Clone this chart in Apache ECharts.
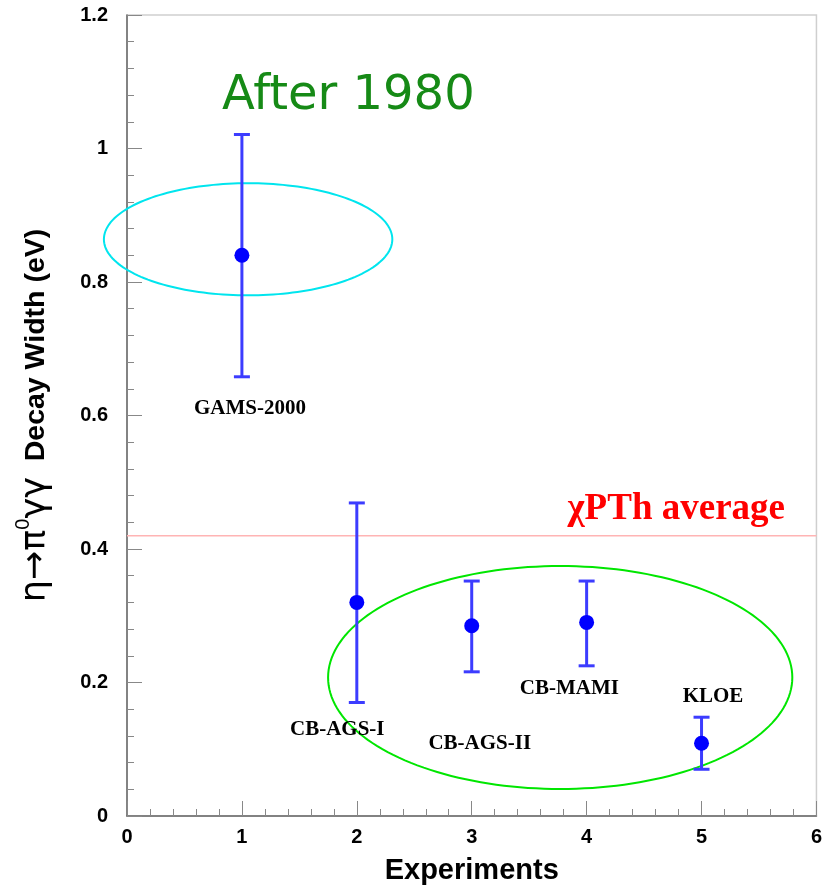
<!DOCTYPE html>
<html><head><meta charset="utf-8">
<script src="https://cdn.jsdelivr.net/npm/echarts@6/dist/echarts.min.js"></script>
<style>html,body{margin:0;padding:0;background:#fff}#c{width:825px;height:890px}</style>
</head><body><div id="c"></div>
<script>
// ---- data ----
var experiments = ['GAMS-2000', 'CB-AGS-I', 'CB-AGS-II', 'CB-MAMI', 'KLOE'];
var xPos = [1, 2, 3, 4, 5];
var widths = [0.84, 0.32, 0.285, 0.29, 0.109];
var errLow = [0.658, 0.170, 0.216, 0.225, 0.070];
var errHigh = [1.021, 0.469, 0.352, 0.352, 0.148];
var chptAverage = 0.42;
var labelX = [1.07, 1.83, 3.07, 3.85, 5.10];
var labelY = [0.610, 0.130, 0.109, 0.191, 0.179];
// ellipses: [cx, cy, rx, ry] in data units
var ellipseCyan = [1.054, 0.864, 1.255, 0.084];
var ellipseGreen = [3.77, 0.2075, 2.02, 0.167];
var xTicks = [0, 1, 2, 3, 4, 5, 6];
var yTicks = [0, 0.2, 0.4, 0.6, 0.8, 1, 1.2];

var chart = echarts.init(document.getElementById('c'));

function ellipseSeries(e, color) {
  return {
    type: 'custom', silent: true, z: 1,
    data: [e],
    renderItem: function (params, api) {
      var cx = api.value(0), cy = api.value(1), rx = api.value(2), ry = api.value(3);
      var pts = [];
      for (var i = 0; i < 180; i++) {
        var t = i / 180 * Math.PI * 2;
        pts.push(api.coord([cx + rx * Math.cos(t), cy + ry * Math.sin(t)]));
      }
      return { type: 'polygon', shape: { points: pts }, style: { fill: 'none', stroke: color, lineWidth: 2 } };
    }
  };
}

var errData = xPos.map(function (x, i) { return [x, errLow[i], errHigh[i]]; });
var ptData = xPos.map(function (x, i) { return [x, widths[i]]; });
var lblData = experiments.map(function (n, i) { return { value: [labelX[i], labelY[i]], name: n }; });

var tickFont = { fontFamily: 'Liberation Sans, Arial', fontWeight: 'bold', fontSize: 20, color: '#000' };

chart.setOption({
  animation: false,
  backgroundColor: '#fff',
  grid: { left: 127, top: 15, right: 5, bottom: 66, show: true, borderColor: '#cfcfcf', borderWidth: 1.5 },
  xAxis: {
    type: 'value', min: 0, max: 6, interval: 1,
    name: 'Experiments', nameLocation: 'middle', nameGap: 40,
    nameTextStyle: { fontFamily: 'Liberation Sans, Arial', fontWeight: 'bold', fontSize: 29, color: '#000' },
    axisLine: { show: true, lineStyle: { color: '#666', width: 1.5 } },
    axisTick: { show: true, inside: true, length: 15, lineStyle: { color: '#888', width: 1 } },
    minorTick: { show: true, splitNumber: 5, length: 7, lineStyle: { color: '#888', width: 1 } },
    splitLine: { show: false },
    axisLabel: Object.assign({ margin: 11, formatter: function (v) { return xTicks.indexOf(v) >= 0 ? String(v) : ''; } }, tickFont)
  },
  yAxis: {
    type: 'value', min: 0, max: 1.2, interval: 0.2,
    name: '{g|η→π}{s|0}{g|γγ}{b|  Decay Width (eV)}', nameLocation: 'middle', nameGap: 68, nameRotate: 90,
    nameTextStyle: {
      rich: {
        g: { fontFamily: 'DejaVu Sans, Liberation Sans', fontSize: 35, color: '#000' },
        s: { fontFamily: 'Liberation Sans, Arial', fontSize: 20, color: '#000', padding: [0, 0, 26, 0] },
        b: { fontFamily: 'Liberation Sans, Arial', fontWeight: 'bold', fontSize: 28.5, color: '#000' }
      }
    },
    axisLine: { show: true, lineStyle: { color: '#666', width: 1.5 } },
    axisTick: { show: true, inside: true, length: 15, lineStyle: { color: '#888', width: 1 } },
    minorTick: { show: true, splitNumber: 5, length: 7, lineStyle: { color: '#888', width: 1 } },
    splitLine: { show: false },
    axisLabel: Object.assign({ margin: 19, formatter: function (v) {
      var r = Math.round(v * 10) / 10;
      return yTicks.indexOf(r) >= 0 ? String(r) : '';
    } }, tickFont)
  },
  graphic: [
    { type: 'text', left: 222, top: 73, z: 10,
      style: { text: 'After 1980', fontFamily: 'DejaVu Sans, Noto Sans', fontSize: 48, fill: '#168a16' } }
  ],
  series: [
    ellipseSeries(ellipseCyan, '#00e5ee'),
    ellipseSeries(ellipseGreen, '#00e600'),
    {
      type: 'line', silent: true, symbol: 'none', z: 1,
      data: [[0, chptAverage], [6, chptAverage]],
      lineStyle: { color: '#ffb4b4', width: 1.5 }
    },
    {
      type: 'custom', z: 3,
      data: errData,
      renderItem: function (params, api) {
        var x = api.value(0);
        var lo = api.coord([x, api.value(1)]);
        var hi = api.coord([x, api.value(2)]);
        var cw = 8;
        var st = { stroke: '#3c3cff', lineWidth: 3 };
        return { type: 'group', children: [
          { type: 'line', shape: { x1: lo[0], y1: lo[1], x2: hi[0], y2: hi[1] }, style: st },
          { type: 'line', shape: { x1: lo[0] - cw, y1: lo[1], x2: lo[0] + cw, y2: lo[1] }, style: st },
          { type: 'line', shape: { x1: hi[0] - cw, y1: hi[1], x2: hi[0] + cw, y2: hi[1] }, style: st }
        ] };
      }
    },
    {
      type: 'scatter', z: 4, symbol: 'circle', symbolSize: 15,
      itemStyle: { color: '#0000ff', opacity: 1 },
      data: ptData
    },
    {
      type: 'scatter', z: 5, symbolSize: 0, silent: true,
      itemStyle: { opacity: 1 },
      data: lblData,
      label: { show: true, position: 'inside', formatter: '{b}',
        fontFamily: 'Liberation Serif, Times New Roman', fontWeight: 'bold', fontSize: 21, color: '#000' }
    },
    {
      type: 'scatter', z: 5, symbolSize: 0, silent: true,
      itemStyle: { opacity: 1 },
      data: [{ value: [4.78, 0.46], name: 'χPTh average' }],
      label: { show: true, position: 'inside', formatter: '{b}',
        fontFamily: 'Liberation Serif, Times New Roman', fontWeight: 'bold', fontSize: 37, color: '#ff0000' }
    }
  ]
});
</script></body></html>
